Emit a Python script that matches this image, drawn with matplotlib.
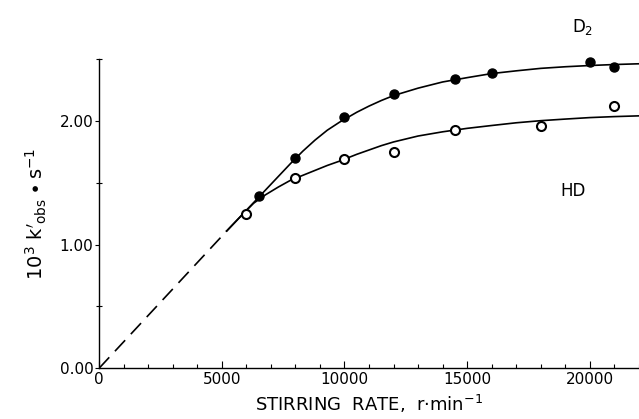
import matplotlib
matplotlib.use("Agg")
import matplotlib.pyplot as plt
from matplotlib.ticker import MultipleLocator, FixedLocator

# Data points (stirring rate r/min, 10^3 k'obs s^-1)
d2_x = [6500, 8000, 10000, 12000, 14500, 16000, 20000, 21000]
d2_y = [1.39, 1.70, 2.03, 2.22, 2.34, 2.39, 2.475, 2.435]
hd_x = [6000, 8000, 10000, 12000, 14500, 18000, 21000]
hd_y = [1.25, 1.54, 1.69, 1.745, 1.93, 1.96, 2.12]

# Fitted curves
d2_curve_x = [5200, 5800, 6300, 6800, 7300, 7800, 8300, 8800, 9300, 9800,
              10500, 11000, 11500, 12000, 13000, 14000, 15000, 16000, 17000,
              18000, 19000, 20000, 21000, 22000]
d2_curve_y = [1.11, 1.235, 1.34, 1.445, 1.55, 1.655, 1.755, 1.845, 1.925, 1.99,
              2.07, 2.12, 2.165, 2.205, 2.265, 2.315, 2.35, 2.383, 2.405,
              2.425, 2.438, 2.448, 2.456, 2.462]
hd_curve_x = [5200, 5800, 6300, 6800, 7300, 7800, 8300, 8800, 9300, 9800,
              10500, 11000, 11500, 12000, 13000, 14000, 15000, 16000, 17000,
              18000, 19000, 20000, 21000, 22000]
hd_curve_y = [1.11, 1.235, 1.335, 1.405, 1.465, 1.52, 1.56, 1.60, 1.64, 1.675,
              1.73, 1.765, 1.80, 1.83, 1.878, 1.912, 1.94, 1.963, 1.985,
              2.002, 2.015, 2.027, 2.035, 2.041]
dash_x = [0, 5200]
dash_y = [0.0, 1.11]

x_ticks = [0, 5000, 10000, 15000, 20000]
x_tick_labels = ["0", "5000", "10000", "15000", "20000"]
y_ticks = [0.0, 1.0, 2.0]
y_tick_labels = ["0.00", "1.00", "2.00"]

fig = plt.figure(figsize=(6.39, 4.19), dpi=100)
ax = fig.add_axes([0.155, 0.121, 0.845, 0.738])

lw = 1.2
ax.plot(dash_x, dash_y, color="black", lw=lw, dashes=(9, 5))
ax.plot(d2_curve_x, d2_curve_y, color="black", lw=lw)
ax.plot(hd_curve_x, hd_curve_y, color="black", lw=lw)
ax.plot(d2_x, d2_y, "o", ms=6.5, mfc="black", mec="black", mew=1.0, zorder=3,
        clip_on=False)
ax.plot(hd_x, hd_y, "o", ms=6.5, mfc="white", mec="black", mew=1.5, zorder=3,
        clip_on=False)

ax.set_xlim(0, 22000)
ax.set_ylim(0, 2.5)
for s in ["top", "right"]:
    ax.spines[s].set_visible(False)
ax.spines["left"].set_linewidth(1.0)
ax.spines["bottom"].set_linewidth(1.0)

ax.set_xticks(x_ticks)
ax.set_xticklabels(x_tick_labels)
ax.set_yticks(y_ticks)
ax.set_yticklabels(y_tick_labels)
ax.xaxis.set_minor_locator(MultipleLocator(1000))
ax.yaxis.set_minor_locator(FixedLocator([0.5, 1.5, 2.5]))
ax.tick_params(axis="x", which="major", direction="in", length=5, width=0.8,
               labelsize=11, pad=3)
ax.tick_params(axis="x", which="minor", direction="in", length=3, width=0.8)
ax.tick_params(axis="y", which="major", direction="out", length=3, width=0.8,
               labelsize=11, pad=1)
ax.tick_params(axis="y", which="minor", direction="inout", length=4, width=0.8)

ax.set_xlabel("STIRRING  RATE,  r$\\cdot$min$^{-1}$", fontsize=13, labelpad=4)
ax.set_ylabel("$\\mathrm{10^3\\ k'_{obs}\\bullet s^{-1}}$", fontsize=14,
              labelpad=8)

ax.text(19700, 2.76, "D$_2$", fontsize=12, ha="center", va="center", clip_on=False)
ax.text(19300, 1.43, "HD", fontsize=12, ha="center", va="center")

fig.savefig("out.png", dpi=100)
